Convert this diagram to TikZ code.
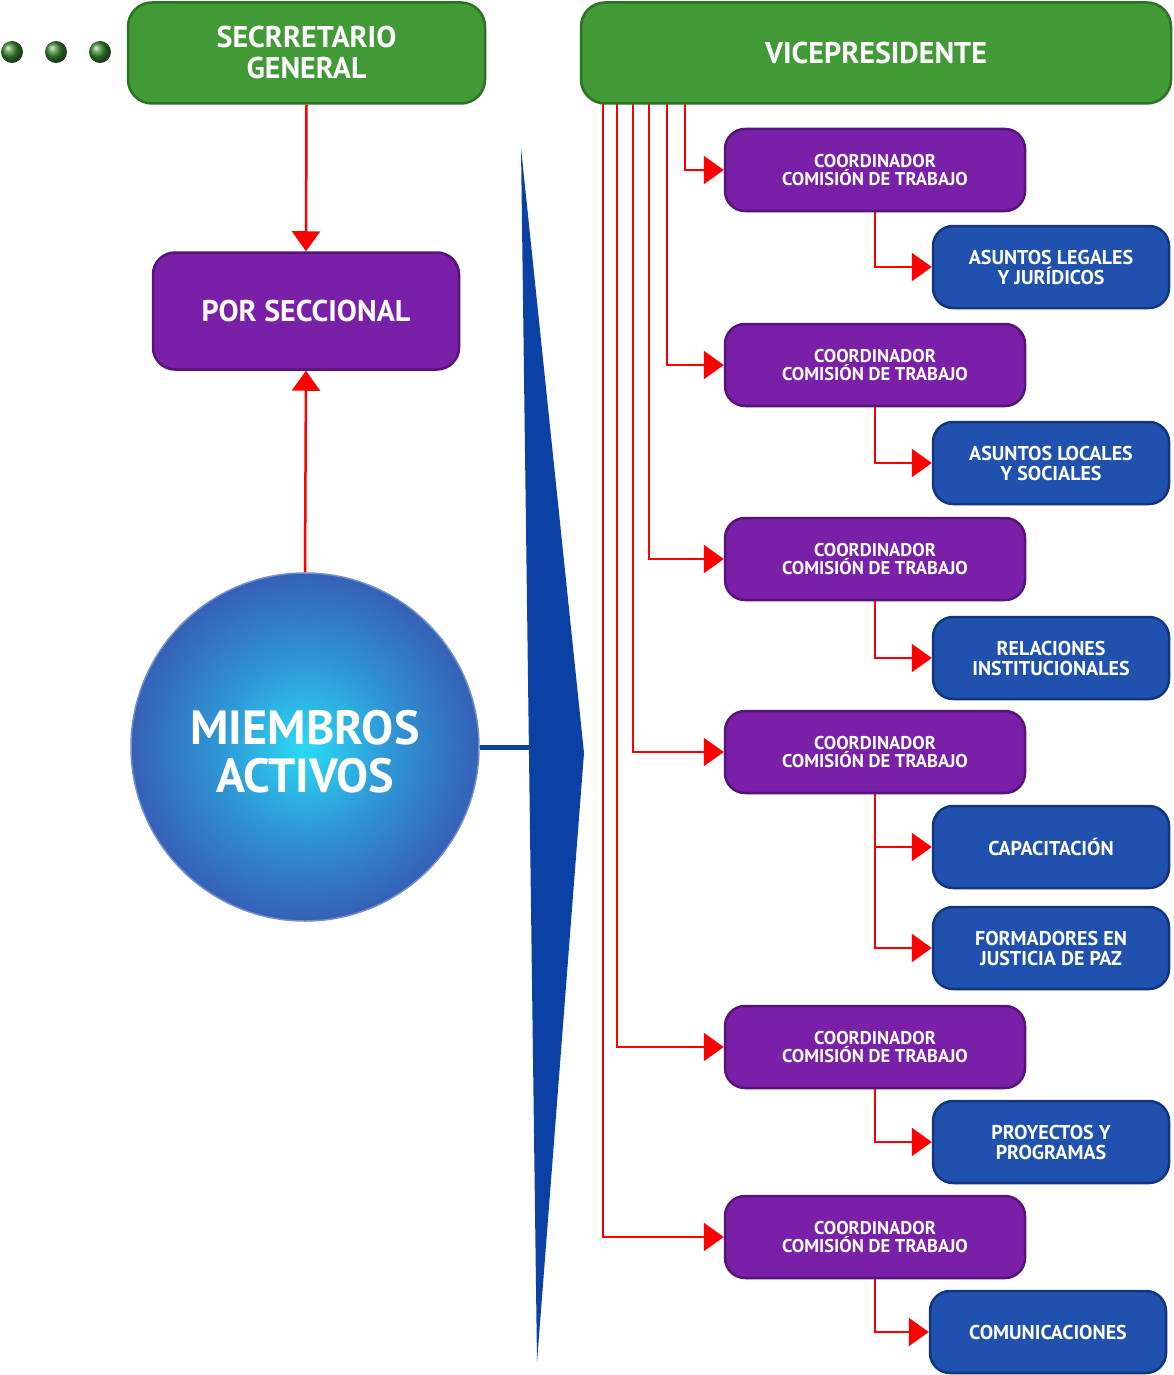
\documentclass[tikz,border=0pt]{standalone}
\usepackage{fontspec}
\setmainfont{PT Sans}
\usetikzlibrary{arrows.meta,calc,backgrounds}
\definecolor{gfill}{HTML}{419A35}
\definecolor{gedge}{HTML}{2B7322}
\definecolor{pfill}{HTML}{7A1FA8}
\definecolor{pedge}{HTML}{56137A}
\definecolor{bfill}{HTML}{2051AE}
\definecolor{bedge}{HTML}{11367F}
\definecolor{orbin}{HTML}{2ADAF6}
\definecolor{orbmid}{HTML}{2F98D6}
\definecolor{orbout}{HTML}{3560B6}
\definecolor{wedgeblue}{HTML}{0B40A5}
\pgfdeclareradialshading{orb}{\pgfpoint{0bp}{0bp}}{color(0bp)=(orbin); color(12bp)=(orbmid); color(25bp)=(orbout); color(50bp)=(orbout)}
\begin{document}
\begin{tikzpicture}[x=1pt,y=-1pt,
  lbl/.style={text=white,align=center,inner sep=0pt},
  gbox/.style={lbl,rounded corners=24pt,fill=gfill,draw=gedge,line width=2.5pt,minimum height=101pt,font=\bfseries\fontsize{30}{31}\selectfont},
  pbox/.style={lbl,rounded corners=20pt,fill=pfill,draw=pedge,line width=2.5pt,minimum width=300pt,minimum height=82pt,font=\bfseries\fontsize{18.5}{18}\selectfont},
  bbox/.style={lbl,rounded corners=20pt,fill=bfill,draw=bedge,line width=2.5pt,minimum width=236pt,minimum height=82pt,font=\bfseries\fontsize{20}{20}\selectfont},
  conn/.style={red,line width=2.5pt,-{Triangle[length=20pt,width=28pt]}},
  dot/.style={circle,shading=ball,ball color=gfill!85!black,minimum size=22pt,inner sep=0pt},
]
\useasboundingbox (0,0) rectangle (1173,1375);
% dots
\node[dot] (d1) at (12,52) {};
\node[dot] (d2) at (56,52) {};
\node[dot] (d3) at (100,52) {};
% top boxes
\node[gbox,minimum width=357pt] (sg) at (306.5,53) {SECRRETARIO\\GENERAL};
\node[gbox,minimum width=590pt] (vp) at (876,53) {VICEPRESIDENTE};
\node[lbl,rounded corners=22pt,fill=pfill,draw=pedge,line width=2.5pt,minimum width=306pt,minimum height=117pt,font=\bfseries\fontsize{30}{30}\selectfont] (ps) at (306,311) {POR SECCIONAL};
% circle
\node[circle,minimum size=348pt,inner sep=0pt,shading=orb,draw=orbout!70!white,line width=1.5pt] (ma) at (305,747) {};
\node[lbl,font=\bfseries\fontsize{48}{48}\selectfont] (mat) at (305,752) {MIEMBROS\\ACTIVOS};
% wedge
\fill[wedgeblue] (521,148) -- (584,753) -- (537,1362) -- cycle;
\coordinate (wj) at (529,747);
\draw[wedgeblue,line width=5pt] (ma.east) -- (wj);
% coordinators
\node[pbox] (c1) at (875,170) {COORDINADOR\\COMISIÓN DE TRABAJO};
\node[pbox] (c2) at (875,365) {COORDINADOR\\COMISIÓN DE TRABAJO};
\node[pbox] (c3) at (875,559) {COORDINADOR\\COMISIÓN DE TRABAJO};
\node[pbox] (c4) at (875,752) {COORDINADOR\\COMISIÓN DE TRABAJO};
\node[pbox] (c5) at (875,1047) {COORDINADOR\\COMISIÓN DE TRABAJO};
\node[pbox] (c6) at (875,1237) {COORDINADOR\\COMISIÓN DE TRABAJO};
% blue boxes
\node[bbox] (b1) at (1051,267) {ASUNTOS LEGALES\\Y JURÍDICOS};
\node[bbox] (b2) at (1051,463) {ASUNTOS LOCALES\\Y SOCIALES};
\node[bbox] (b3) at (1051,658) {RELACIONES\\INSTITUCIONALES};
\node[bbox] (b4) at (1051,847) {CAPACITACIÓN};
\node[bbox] (b5) at (1051,948) {FORMADORES EN\\JUSTICIA DE PAZ};
\node[bbox] (b6) at (1051,1142) {PROYECTOS Y\\PROGRAMAS};
\node[bbox] (b7) at (1048,1332) {COMUNICACIONES};
% connectors
\begin{scope}[on background layer]
\draw[conn] (sg.south) -- (ps.north);
\draw[conn] (ma.north) -- (ps.south);
\draw[conn] ($(vp.south west)+(105,-10)$) |- (c1.west);
\draw[conn] ($(vp.south west)+(87,-10)$) |- (c2.west);
\draw[conn] ($(vp.south west)+(69,-10)$) |- (c3.west);
\draw[conn] ($(vp.south west)+(53,-10)$) |- (c4.west);
\draw[conn] ($(vp.south west)+(37,-10)$) |- (c5.west);
\draw[conn] ($(vp.south west)+(23,-10)$) |- (c6.west);
\draw[conn] (c1.south) |- (b1.west);
\draw[conn] (c2.south) |- (b2.west);
\draw[conn] (c3.south) |- (b3.west);
\draw[conn] (c4.south) |- (b4.west);
\draw[conn] (c4.south) |- (b5.west);
\draw[conn] (c5.south) |- (b6.west);
\draw[conn] (c6.south) |- (b7.west);
\end{scope}
\end{tikzpicture}
\end{document}
